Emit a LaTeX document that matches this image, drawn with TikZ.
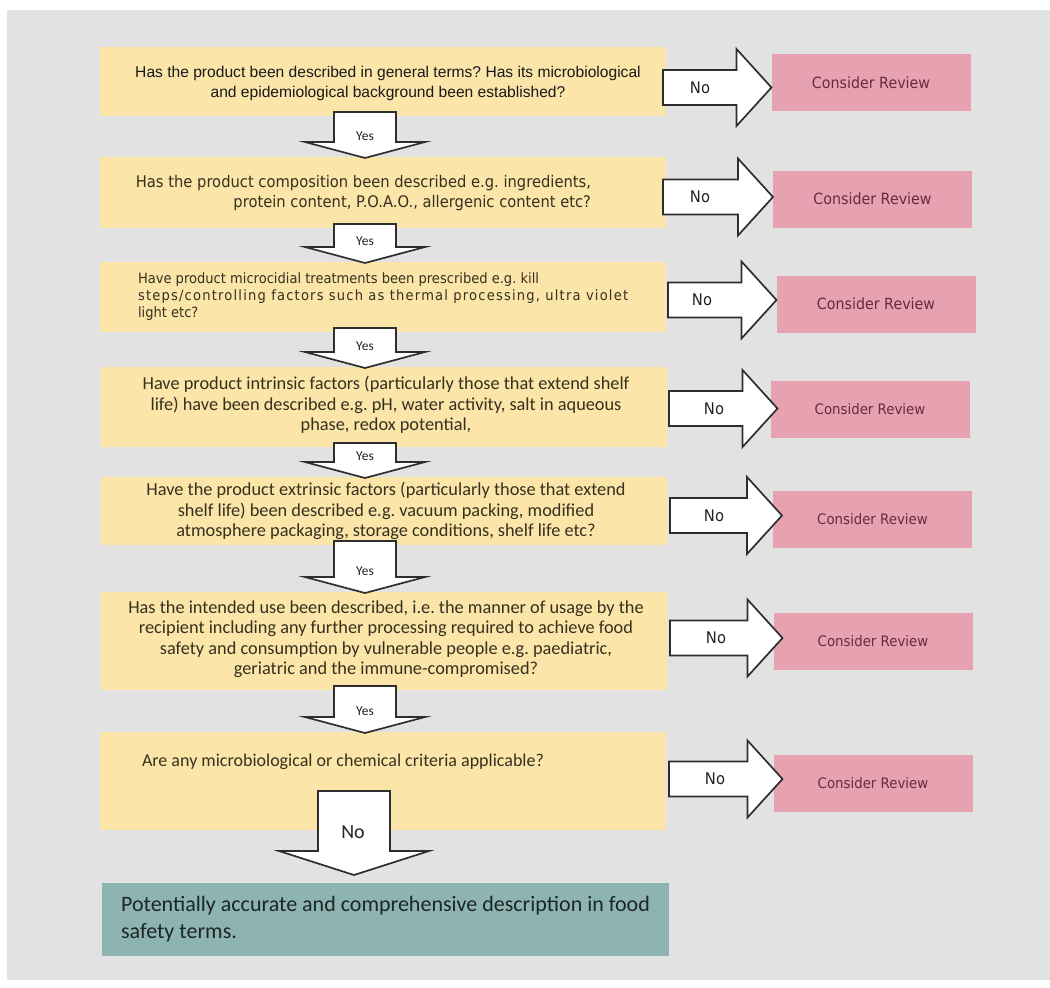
\documentclass[tikz,border=0pt]{standalone}
\usepackage{fontspec}
\usetikzlibrary{calc}
\newfontfamily\arialfont{Liberation Sans}
\newfontfamily\tahomafont[FakeStretch=0.92]{DejaVu Sans}
\newfontfamily\calibrifont{Carlito}
\newcommand\fs[2]{\fontsize{#1pt}{#2pt}\selectfont}

\definecolor{pagegray}{HTML}{E2E2E2}
\definecolor{qyellow}{HTML}{FBE5A9}
\definecolor{rpink}{HTML}{E7A2B1}
\definecolor{fteal}{HTML}{8DB4B1}
\definecolor{qink}{HTML}{36301F}
\definecolor{qinkdark}{HTML}{1A1A1A}
\definecolor{rink}{HTML}{6A2A3E}
\definecolor{fink}{HTML}{1C2626}
\definecolor{lblink}{HTML}{222222}
\definecolor{aline}{HTML}{2E2E2E}

\tikzset{
  qbox/.style={fill=qyellow, inner sep=0pt, outer sep=0pt, minimum width=566pt},
  qtext/.style={inner sep=0pt, outer sep=0pt, text=qink},
  review/.style={fill=rpink, inner sep=0pt, outer sep=0pt, minimum width=199pt,
    minimum height=57pt, text=rink, font=\tahomafont\fs{15.5}{18}},
  blockarrow/.style={draw=aline, fill=white, line width=1.7pt, line join=miter},
  yeslabel/.style={inner sep=0pt, text=lblink, font=\calibrifont\fs{13.5}{15}},
  nolabel/.style={inner sep=0pt, text=lblink, font=\tahomafont\fs{16}{18}},
  nobig/.style={inner sep=0pt, text=lblink, font=\calibrifont\fs{20}{22}},
  final/.style={fill=fteal, inner sep=0pt, outer sep=0pt,
    minimum width=567pt, minimum height=73pt, align=left,
    text=fink, font=\calibrifont\fs{22}{27}}
}

% "Yes" block arrow from one question box down to the next
\newcommand\yesarrow[3]{%
  \draw[blockarrow] let \p1=(#1.south), \p2=(#2.north) in
    (334pt,{\y1+4pt}) -- (396pt,{\y1+4pt}) -- (396pt,{\y2+15pt}) -- (425pt,{\y2+15pt})
    -- (365pt,{\y2-1pt}) -- (305pt,{\y2+15pt}) -- (334pt,{\y2+15pt}) -- cycle
    node[yeslabel] (#3) at (365pt,{\y2+21pt}) {Yes};
}
% "No" block arrow from a question box to its review box
% #3 axis (down from top), #4 start shift, #5 tip shift, #6 label name, #7 label offset
\newcommand\noarrow[7]{%
  \draw[blockarrow] let \p1=(#1.east), \p2=(#2.west) in
    ({\x1+#4pt},{-#3pt+17.5pt}) -- ({\x2+#5pt-35pt},{-#3pt+17.5pt})
    -- ({\x2+#5pt-35pt},{-#3pt+38.5pt}) -- ({\x2+#5pt},{-#3pt})
    -- ({\x2+#5pt-35pt},{-#3pt-38.5pt}) -- ({\x2+#5pt-35pt},{-#3pt-17.5pt})
    -- ({\x1+#4pt},{-#3pt-17.5pt}) -- cycle;
  \path let \p1=(#1.east) in node[nolabel] (#6) at ({\x1+#4pt+#7pt},{-#3pt}) {No};
}

\begin{document}
\frenchspacing
\begin{tikzpicture}[x=1pt,y=-1pt]
\fill[white] (0,0) rectangle (1050,988);
\useasboundingbox (0,0) rectangle (1050,988);
\fill[pagegray] (7,10) rectangle (1050,980);

% question boxes
\node[qbox, minimum height=69pt] (q1) at (383,81.5) {};
\node[qbox, minimum height=71pt] (q2) at (383,192.5) {};
\node[qbox, minimum height=70pt] (q3) at (383,297) {};
\node[qbox, minimum height=80pt] (q4) at (384,407) {};
\node[qbox, minimum height=68pt] (q5) at (384,511) {};
\node[qbox, minimum height=98pt] (q6) at (384,641) {};
\node[qbox, minimum height=98pt] (q7) at (383,781) {};

% final outcome
\node[final] (f) at (385.5,919.5) {Potentially accurate and comprehensive description in food\\safety terms.};

% question texts
\node[qtext, text=qinkdark, align=center, font=\arialfont\fs{15.6}{20}] (t1) at (388,83)
  {Has the product been described in general terms? Has its microbiological\\and epidemiological background been established?};
\node[qtext, anchor=east, align=right, font=\tahomafont\fs{16}{19.5}] (t2) at (591,193)
  {Has the product composition been described e.g. ingredients,\\protein content, P.O.A.O., allergenic content etc?};
\node[qtext, anchor=west, align=left, font=\tahomafont\fs{14.2}{17}] (t3) at (138,297)
  {Have product microcidial treatments been prescribed e.g. kill\\{\addfontfeature{LetterSpace=8.5}steps/controlling factors such as thermal processing, ultra violet}\\light etc?};
\node[qtext, align=center, font=\calibrifont\fs{18.3}{20.5}] (t4) at (386,405)
  {Have product intrinsic factors (particularly those that extend shelf\\life) have been described e.g. pH, water activity, salt in aqueous\\phase, redox potential,};
\node[qtext, align=center, font=\calibrifont\fs{18.3}{20.5}] (t5) at (386,511)
  {Have the product extrinsic factors (particularly those that extend\\shelf life) been described e.g. vacuum packing, modified\\atmosphere packaging, storage conditions, shelf life etc?};
\node[qtext, align=center, font=\calibrifont\fs{18.3}{20.5}] (t6) at (386,639)
  {Has the intended use been described, i.e. the manner of usage by the\\recipient including any further processing required to achieve food\\safety and consumption by vulnerable people e.g. paediatric,\\geriatric and the immune-compromised?};
\node[qtext, anchor=west, font=\calibrifont\fs{18}{20}] (t7) at (142,762)
  {Are any microbiological or chemical criteria applicable?};

% review boxes
\node[review] (r1) at (871,82.5) {Consider Review};
\node[review] (r2) at (872.5,199) {Consider Review};
\node[review] (r3) at (876,304) {Consider Review};
\node[review, font=\tahomafont\fs{14.5}{17}] (r4) at (870,409) {Consider Review};
\node[review, font=\tahomafont\fs{14.5}{17}] (r5) at (872.5,519.5) {Consider Review};
\node[review, font=\tahomafont\fs{14.5}{17}] (r6) at (873,641) {Consider Review};
\node[review, font=\tahomafont\fs{14.5}{17}] (r7) at (873,783) {Consider Review};

% yes arrows down the chain
\yesarrow{q1}{q2}{y1}
\yesarrow{q2}{q3}{y2}
\yesarrow{q3}{q4}{y3}
\yesarrow{q4}{q5}{y4}
\yesarrow{q5}{q6}{y5}
\yesarrow{q6}{q7}{y6}

% no arrows to the review boxes
\noarrow{q1}{r1}{87.5}{-3}{0}{n1}{37}
\noarrow{q2}{r2}{197}{-3}{0}{n2}{37}
\noarrow{q3}{r3}{300}{2}{0}{n3}{34}
\noarrow{q4}{r4}{408.5}{2}{7}{n4}{45}
\noarrow{q5}{r5}{515.5}{3}{9}{n5}{44}
\noarrow{q6}{r6}{638}{3}{9}{n6}{46}
\noarrow{q7}{r7}{779}{3}{9}{n7}{46}

% last question answered "No" leads to the outcome
\draw[blockarrow] let \p1=(q7.south), \p2=(f.north) in
  (318pt,{\y1+39pt}) -- (390pt,{\y1+39pt}) -- (390pt,{\y2+32pt}) -- (429pt,{\y2+32pt})
  -- (354pt,{\y2+8pt}) -- (279pt,{\y2+32pt}) -- (318pt,{\y2+32pt}) -- cycle
  node[nobig] (nf) at (353pt,{\y2+51pt}) {No};
\end{tikzpicture}
\end{document}
